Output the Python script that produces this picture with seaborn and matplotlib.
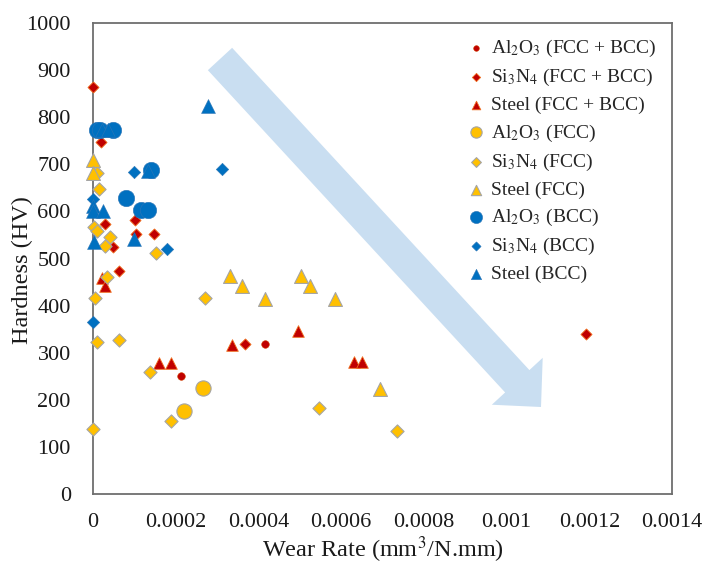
import numpy as np
import pandas as pd
import matplotlib
matplotlib.use("Agg")
import matplotlib.pyplot as plt
from matplotlib.patches import Polygon
import seaborn as sns

sns.set_style("white")
plt.rcParams['font.family'] = ['Liberation Serif', 'DejaVu Serif']
plt.rcParams['mathtext.fontset'] = 'stix'

# ---- data (wear rate, hardness) ----
al2o3_mix_x = [0.000212, 0.000416]
al2o3_mix_y = [251, 319]
si3n4_mix_x = [0.0, 0.0000185, 0.000029, 0.000101, 0.000103, 0.000147, 0.000049, 0.000063, 0.000367, 0.001192]
si3n4_mix_y = [865, 748, 574, 581, 551, 552, 525, 474, 318, 339]
steel_mix_x = [0.000021, 0.000029, 0.000159, 0.000189, 0.000337, 0.000496, 0.00063, 0.00065]
steel_mix_y = [459, 442, 279, 279, 317, 346, 280, 280]

al2o3_fcc_x = [0.000265, 0.000221]
al2o3_fcc_y = [226, 177]
si3n4_fcc_x = [0.000009, 0.0000145, 0.000003, 0.00001, 0.000041, 0.000029, 0.000153, 0.000035,
               0.000005, 0.000272, 0.000009, 0.000063, 0.000137, 0.000189, 0.0, 0.000546, 0.000735]
si3n4_fcc_y = [682, 647, 567, 559, 546, 527, 511, 460, 417, 416, 323, 327, 260, 155, 138, 182, 134]
steel_fcc_x = [0.0, 0.0, 0.000332, 0.00036, 0.000416, 0.000503, 0.000524, 0.000586, 0.000695]
steel_fcc_y = [709, 682, 463, 442, 414, 463, 442, 413, 222]

al2o3_bcc_x = [0.000009, 0.000016, 0.000049, 0.000141, 0.000081, 0.000117, 0.000133]
al2o3_bcc_y = [772, 772, 772, 688, 628, 603, 603]
si3n4_bcc_x = [0.000099, 0.000313, 0.0, 0.000179, 0.0]
si3n4_bcc_y = [683, 691, 626, 520, 365]
steel_bcc_x = [0.000021, 0.000037, 0.000277, 0.000133, 0.0, 0.0, 0.000025, 0.000099, 0.000003]
steel_bcc_y = [772, 772, 823, 686, 612, 600, 601, 541, 536]

x_ticks = [0, 0.0002, 0.0004, 0.0006, 0.0008, 0.001, 0.0012, 0.0014]
x_tick_labels = ['0', '0.0002', '0.0004', '0.0006', '0.0008', '0.001', '0.0012', '0.0014']
y_ticks = list(range(0, 1001, 100))

RED, YEL, BLU = '#C00000', '#FFC000', '#0070C0'

series = [
    (al2o3_mix_x, al2o3_mix_y, 'Al$_2$O$_3$ (FCC + BCC)', 'o', RED, 30, '#D04000', 0.4),
    (si3n4_mix_x, si3n4_mix_y, 'Si$_3$N$_4$ (FCC + BCC)', 'D', RED, 32, '#F07020', 0.6),
    (steel_mix_x, steel_mix_y, 'Steel (FCC + BCC)', '^', RED, 70, '#F07020', 0.6),
    (al2o3_fcc_x, al2o3_fcc_y, 'Al$_2$O$_3$ (FCC)', 'o', YEL, 120, '#A5A5A5', 0.8),
    (si3n4_fcc_x, si3n4_fcc_y, 'Si$_3$N$_4$ (FCC)', 'D', YEL, 45, '#A5A5A5', 0.8),
    (steel_fcc_x, steel_fcc_y, 'Steel (FCC)', '^', YEL, 100, '#A5A5A5', 0.8),
    (al2o3_bcc_x, al2o3_bcc_y, 'Al$_2$O$_3$ (BCC)', 'o', BLU, 140, '#2E75B6', 0.4),
    (si3n4_bcc_x, si3n4_bcc_y, 'Si$_3$N$_4$ (BCC)', 'D', BLU, 40, '#2E75B6', 0.4),
    (steel_bcc_x, steel_bcc_y, 'Steel (BCC)', '^', BLU, 100, '#2E75B6', 0.4),
]

fig = plt.figure(figsize=(7.08, 5.63), dpi=100)
ax = fig.add_axes([93 / 708, 1 - 494 / 563, (672 - 93) / 708, (494 - 23) / 563])

# light blue trend arrow (figure pixel coordinates)
T = np.array([220.0, 59.0]); P = np.array([541.0, 407.0])
d = (P - T) / np.linalg.norm(P - T); n = np.array([d[1], -d[0]])
B = P - 35 * d
pts = [T + 16.5 * n, B + 16.5 * n, B + 34.6 * n, P, B - 34.6 * n, B - 16.5 * n, T - 16.5 * n]
pts = [(p[0] / 708, 1 - p[1] / 563) for p in pts]
fig.patches.append(Polygon(pts, closed=True, transform=fig.transFigure,
                           facecolor='#C9DEF1', edgecolor='none', zorder=0))

for xs, ys, lab, mk, col, s, ec, lw in series:
    df = pd.DataFrame({'Wear Rate': xs, 'Hardness': ys})
    sns.scatterplot(data=df, x='Wear Rate', y='Hardness', marker=mk, color=col, s=s,
                    edgecolor=ec, linewidth=lw, label=lab, ax=ax, clip_on=False, zorder=3)

ax.set_xlim(0, 0.0014)
ax.set_ylim(0, 1000)
ax.set_xticks(x_ticks)
ax.set_xticklabels(x_tick_labels)
ax.set_yticks(y_ticks)
ax.tick_params(axis='both', which='major', labelsize=16, direction='out', length=6,
               width=1.2, color='#6E6E6E', pad=8, labelcolor='#1A1A1A')
ax.tick_params(axis='y', pad=10)
for sp in ax.spines.values():
    sp.set_color('#6E6E6E')
    sp.set_linewidth(1.3)
ax.patch.set_alpha(0)
ax.set_xlabel('Wear Rate (mm$^3$/N.mm)', fontsize=17.5, color='#1A1A1A')
ax.set_ylabel('Hardness (HV)', fontsize=17.5, color='#1A1A1A')
ax.xaxis.set_label_coords(0.5, (494 - 534) / 471)
ax.yaxis.set_label_coords((33 - 93) / 579, (494 - 270) / 471)

leg = ax.legend(loc='upper left', bbox_to_anchor=((467 - 93) / 579, 1 - (38 - 23) / 471),
                frameon=False, fontsize=14, handlelength=0.9, handletextpad=0.35,
                labelspacing=0.42, borderpad=0, borderaxespad=0)
for h in leg.legend_handles:
    h.set_sizes([h.get_sizes()[0] * 0.55])

fig.savefig('out.png', dpi=100)
